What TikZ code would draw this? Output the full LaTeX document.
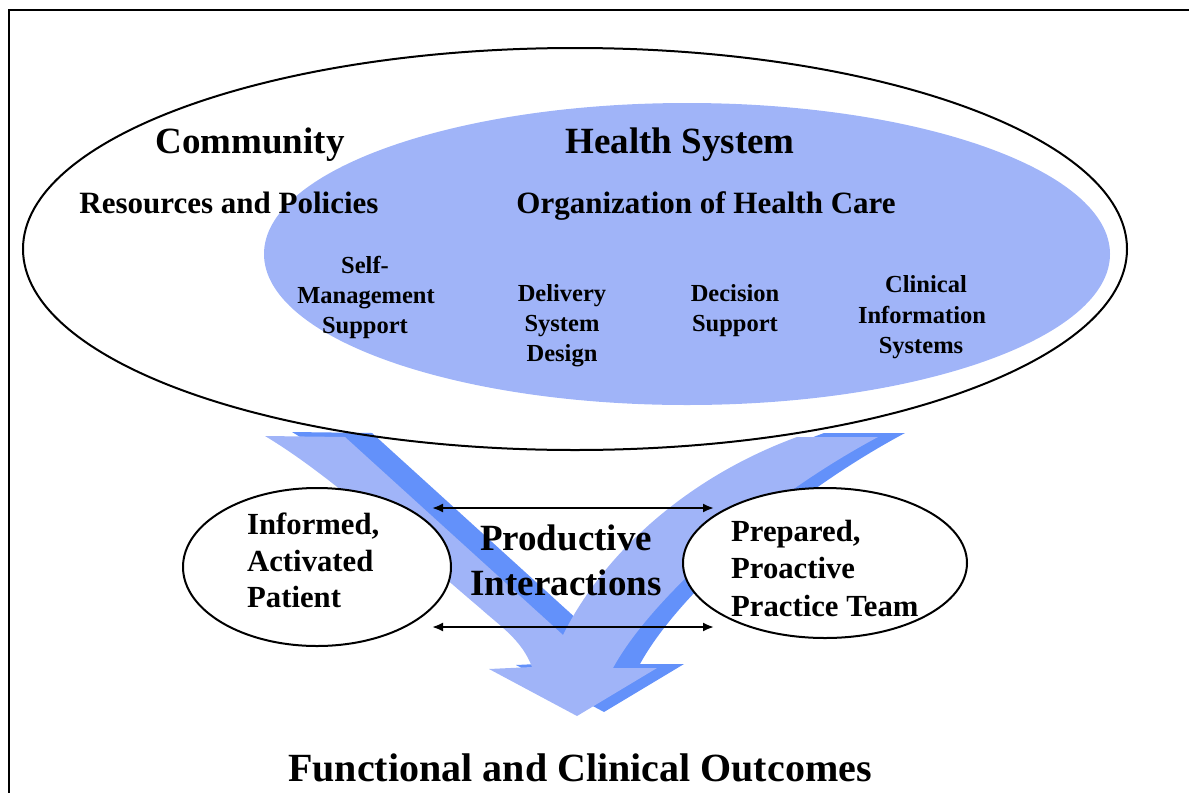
\documentclass[tikz,border=0pt]{standalone}
\usepackage{fontspec}
\setmainfont{Liberation Serif}
\usetikzlibrary{arrows.meta,shapes.geometric}
\definecolor{lightblue}{RGB}{160,180,248}
\definecolor{darkblue}{RGB}{99,145,250}
\newcommand{\chevronoutline}{(265,436) -- (345,437) -- (563,635)
  .. controls (600,560) and (680,480) .. (797,437) -- (878,437)
  .. controls (760,500) and (650,600) .. (613,668) -- (657,668) -- (577,716)
  -- (489,669) -- (532,667) .. controls (522,640) and (500,626) .. (480,608)
  .. controls (400,540) and (330,475) .. (265,436) -- cycle}
\tikzset{
  txt/.style={inner sep=0pt, anchor=base},
  hd/.style={txt, font=\fontsize{37}{44}\selectfont\bfseries},
  sub/.style={txt, font=\fontsize{31}{37}\selectfont\bfseries},
  sm/.style={txt, font=\fontsize{24.5}{30}\selectfont\bfseries},
  mid/.style={txt, anchor=base west, font=\fontsize{30.7}{37}\selectfont\bfseries},
  pi/.style={txt, font=\fontsize{37}{44}\selectfont\bfseries},
  ttl/.style={txt, font=\fontsize{40}{48}\selectfont\bfseries},
  oval/.style={ellipse, draw=black, line width=2pt, fill=white, inner sep=0pt},
  dbl/.style={{Latex[length=11pt,width=9pt]}-{Latex[length=11pt,width=9pt]}, line width=2pt}
}
\begin{document}
\begin{tikzpicture}[x=1pt,y=-1pt]
\useasboundingbox (0,0) rectangle (1189,793);
% frame
\draw[line width=2.5pt] (1189,10) -- (9,10) -- (9,793);
% health system ellipse
\fill[lightblue] (687,254) ellipse [x radius=423, y radius=151];
% chevron arrow with shadow
\fill[darkblue, shift={(27,-4)}] \chevronoutline;
\fill[lightblue] \chevronoutline;
% community ellipse
\draw[line width=2pt] (575,249) ellipse [x radius=552, y radius=201];
% patient and team ellipses
\node[oval, minimum width=268pt, minimum height=158pt] (patient) at (317,567) {};
\node[oval, minimum width=284pt, minimum height=150pt] (team) at (825,563) {};
% texts
\node[hd] (community) at (250,153) {Community};
\node[hd] (health) at (680,153) {Health System};
\node[sub] (resources) at (229,213) {Resources and Policies};
\node[sub] (organization) at (706,213) {Organization of Health Care};
\node[sm] (sm1) at (365,273) {Self-};
\node[sm] (sm2) at (366,303) {Management};
\node[sm] (sm3) at (365,333) {Support};
\node[sm] (ds1) at (562,301) {Delivery};
\node[sm] (ds2) at (562,331) {System};
\node[sm] (ds3) at (562,361) {Design};
\node[sm] (dc1) at (735,301) {Decision};
\node[sm] (dc2) at (735,331) {Support};
\node[sm] (ci1) at (926,292) {Clinical};
\node[sm] (ci2) at (922,323) {Information};
\node[sm] (ci3) at (921,353) {Systems};
\node[mid] (pa1) at (247,534) {Informed,};
\node[mid] (pa2) at (247,571) {Activated};
\node[mid] (pa3) at (247,607) {Patient};
\node[mid] (pt1) at (731,541) {Prepared,};
\node[mid] (pt2) at (731,578) {Proactive};
\node[mid] (pt3) at (731,616) {Practice Team};
\node[pi] (prod1) at (566,550) {Productive};
\node[pi] (prod2) at (566,595) {Interactions};
\node[ttl] (outcomes) at (580,781) {Functional and Clinical Outcomes};
% interaction arrows
\coordinate (ua) at (432,508);
\coordinate (ub) at (714,508);
\coordinate (la) at (432,627);
\coordinate (lb) at (714,627);
\draw[dbl] (ua) -- (ub);
\draw[dbl] (la) -- (lb);
\end{tikzpicture}
\end{document}
